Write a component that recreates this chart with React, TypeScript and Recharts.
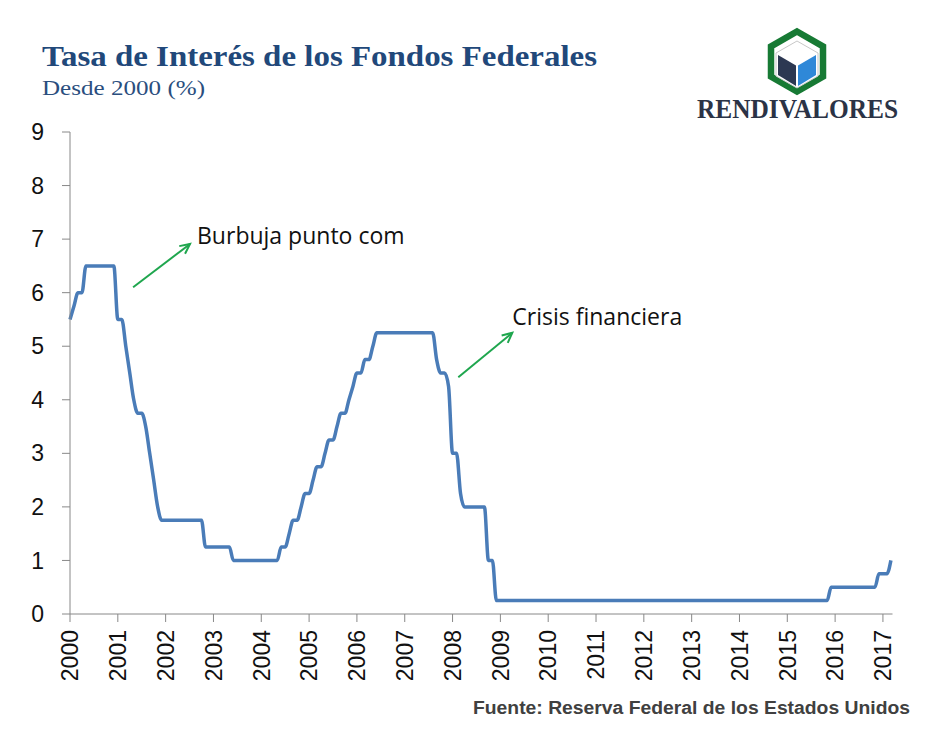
import React from 'react';
import { LineChart, Line, XAxis, YAxis, ReferenceLine } from 'recharts';

// Federal funds target rate, end of month (%), Jan..Dec
const years = [2000, 2001, 2002, 2003, 2004, 2005, 2006, 2007, 2008, 2009, 2010, 2011, 2012, 2013, 2014, 2015, 2016, 2017];
const rates2000 = [5.5, 5.75, 6, 6, 6.5, 6.5, 6.5, 6.5, 6.5, 6.5, 6.5, 6.5];
const rates2001 = [5.5, 5.5, 5, 4.5, 4, 3.75, 3.75, 3.5, 3, 2.5, 2, 1.75];
const rates2002 = [1.75, 1.75, 1.75, 1.75, 1.75, 1.75, 1.75, 1.75, 1.75, 1.75, 1.25, 1.25];
const rates2003 = [1.25, 1.25, 1.25, 1.25, 1.25, 1, 1, 1, 1, 1, 1, 1];
const rates2004 = [1, 1, 1, 1, 1, 1.25, 1.25, 1.5, 1.75, 1.75, 2, 2.25];
const rates2005 = [2.25, 2.5, 2.75, 2.75, 3, 3.25, 3.25, 3.5, 3.75, 3.75, 4, 4.25];
const rates2006 = [4.5, 4.5, 4.75, 4.75, 5, 5.25, 5.25, 5.25, 5.25, 5.25, 5.25, 5.25];
const rates2007 = [5.25, 5.25, 5.25, 5.25, 5.25, 5.25, 5.25, 5.25, 4.75, 4.5, 4.5, 4.25];
const rates2008 = [3, 3, 2.25, 2, 2, 2, 2, 2, 2, 1, 1, 0.25];
const rates2009 = [0.25, 0.25, 0.25, 0.25, 0.25, 0.25, 0.25, 0.25, 0.25, 0.25, 0.25, 0.25];
const rates2010 = [0.25, 0.25, 0.25, 0.25, 0.25, 0.25, 0.25, 0.25, 0.25, 0.25, 0.25, 0.25];
const rates2011 = [0.25, 0.25, 0.25, 0.25, 0.25, 0.25, 0.25, 0.25, 0.25, 0.25, 0.25, 0.25];
const rates2012 = [0.25, 0.25, 0.25, 0.25, 0.25, 0.25, 0.25, 0.25, 0.25, 0.25, 0.25, 0.25];
const rates2013 = [0.25, 0.25, 0.25, 0.25, 0.25, 0.25, 0.25, 0.25, 0.25, 0.25, 0.25, 0.25];
const rates2014 = [0.25, 0.25, 0.25, 0.25, 0.25, 0.25, 0.25, 0.25, 0.25, 0.25, 0.25, 0.25];
const rates2015 = [0.25, 0.25, 0.25, 0.25, 0.25, 0.25, 0.25, 0.25, 0.25, 0.25, 0.25, 0.5];
const rates2016 = [0.5, 0.5, 0.5, 0.5, 0.5, 0.5, 0.5, 0.5, 0.5, 0.5, 0.5, 0.75];
const rates2017 = [0.75, 0.75, 1];

const yTicks = [0, 1, 2, 3, 4, 5, 6, 7, 8, 9];

const ratesByYear = [
  rates2000, rates2001, rates2002, rates2003, rates2004, rates2005, rates2006, rates2007, rates2008,
  rates2009, rates2010, rates2011, rates2012, rates2013, rates2014, rates2015, rates2016, rates2017,
];

const data = ratesByYear.flatMap((vals, i) => vals.map((v, m) => ({ t: years[i] + m / 12, rate: v })));

const YearTick = ({ x, y, payload }: any) => (
  <text
    x={x}
    y={y}
    transform={`rotate(-90, ${x}, ${y})`}
    textAnchor="end"
    dy="0.36em"
    fontSize={23}
    fontFamily="'Liberation Sans', Arial, sans-serif"
    fill="#111"
  >
    {payload.value}
  </text>
);

// green arrow with label next to its head
const arrowShape = (label: string, dx: number, dy: number) => (props: any) => {
  const { x1, y1, x2, y2 } = props;
  const a = Math.atan2(y2 - y1, x2 - x1);
  const h = 11;
  const p1 = { x: x2 - h * Math.cos(a - 0.45), y: y2 - h * Math.sin(a - 0.45) };
  const p2 = { x: x2 - h * Math.cos(a + 0.45), y: y2 - h * Math.sin(a + 0.45) };
  return (
    <g>
      <line x1={x1} y1={y1} x2={x2} y2={y2} stroke="#1fa64e" strokeWidth={2} />
      <polyline points={`${p1.x},${p1.y} ${x2},${y2} ${p2.x},${p2.y}`} fill="none" stroke="#1fa64e" strokeWidth={2} />
      <text x={x2 + dx} y={y2 + dy} fontSize={23} fontFamily="'Open Sans', sans-serif" fill="#111">
        {label}
      </text>
    </g>
  );
};

const Logo = () => (
  <g>
    <polygon points="797,31.5 823,46.5 823,76.5 797,91.5 771,76.5 771,46.5" fill="#fff" stroke="#177a34" strokeWidth={6.5} />
    <polygon points="797,41 818,53 818,76 797,88 776,76 776,53" fill="#fff" stroke="#c8c8c8" strokeWidth={1} />
    <polygon points="797,43 816,54 797,65 778,54" fill="#fff" />
    <polygon points="778,55 796,65.5 796,86 778,75" fill="#2c3852" />
    <polygon points="798,65.5 816,55 816,75 798,86" fill="#2f88d8" />
  </g>
);

const App: React.FC = () => {
  return (
    <div style={{ position: 'absolute', left: 0, top: 0, width: 941, height: 736, background: '#fff' }}>
      <LineChart width={941} height={736} data={data} margin={{ top: 132, right: 48.5, bottom: 92, left: 0 }}>
        <XAxis
          dataKey="t"
          type="number"
          domain={[2000, 2017.2]}
          ticks={years}
          interval={0}
          height={30}
          tickSize={8}
          tickMargin={8}
          tick={<YearTick />}
          stroke="#888"
        />
        <YAxis
          type="number"
          domain={[0, 9]}
          ticks={yTicks}
          width={70}
          tickSize={8}
          tickMargin={18}
          stroke="#888"
          tick={{ fontSize: 23, fill: '#111', fontFamily: "'Liberation Sans', Arial, sans-serif" }}
        />
        <Line
          type="monotone"
          dataKey="rate"
          stroke="#4a7cb8"
          strokeWidth={3.5}
          dot={false}
          isAnimationActive={false}
        />
        <ReferenceLine
          segment={[{ x: 2001.32, y: 6.1 }, { x: 2002.51, y: 6.91 }]}
          shape={arrowShape('Burbuja punto com', 7, 0)}
        />
        <ReferenceLine
          segment={[{ x: 2008.12, y: 4.42 }, { x: 2009.25, y: 5.25 }]}
          shape={arrowShape('Crisis financiera', 0, -8)}
        />
      </LineChart>
      <svg width={941} height={736} style={{ position: 'absolute', left: 0, top: 0, pointerEvents: 'none' }}>
        <text x={42} y={66} fontSize={30} fontWeight="bold" fontFamily="'Liberation Serif', 'Times New Roman', serif" fill="#21487a" textLength={555} lengthAdjust="spacingAndGlyphs">
          Tasa de Interés de los Fondos Federales
        </text>
        <text x={42} y={95} fontSize={22} fontFamily="'Liberation Serif', 'Times New Roman', serif" fill="#2a4e7e" textLength={163} lengthAdjust="spacingAndGlyphs">
          Desde 2000 (%)
        </text>
        <Logo />
        <text x={697} y={118} fontSize={27} fontWeight="bold" fontFamily="'Liberation Serif', 'Times New Roman', serif" fill="#2b3346" textLength={201} lengthAdjust="spacingAndGlyphs">
          RENDIVALORES
        </text>
        <text x={473} y={714} fontSize={18} fontWeight="bold" fontFamily="'Liberation Sans', Arial, sans-serif" fill="#404040" textLength={437} lengthAdjust="spacingAndGlyphs">
          Fuente: Reserva Federal de los Estados Unidos
        </text>
      </svg>
    </div>
  );
};

export default App;
